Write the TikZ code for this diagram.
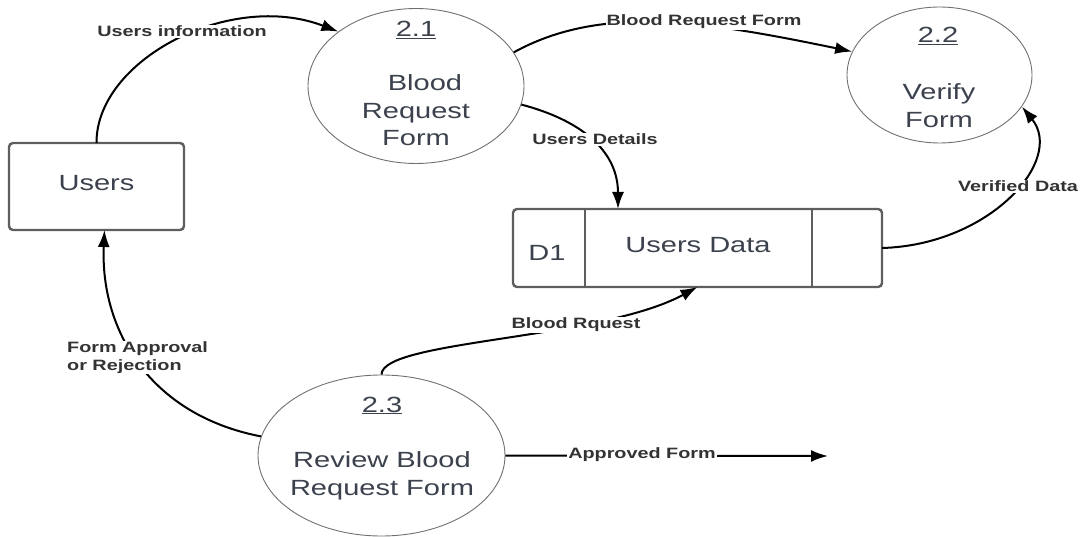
\documentclass[tikz,border=0pt]{standalone}
\usepackage{fontspec}
\setmainfont{Liberation Sans}[FakeStretch=1.32]
\usetikzlibrary{shapes.geometric,arrows.meta}
\definecolor{txt}{HTML}{3B414D}
\definecolor{lbl}{HTML}{333333}
\definecolor{edgegray}{HTML}{707070}
\definecolor{boxedge}{HTML}{5E5E5E}
\begin{document}
\begin{tikzpicture}[x=1pt,y=-1pt,
  proc/.style={ellipse,draw=edgegray,line width=0.9pt,inner sep=0pt},
  ent/.style={draw=boxedge,line width=2.4pt,rounded corners=4pt,inner sep=0pt,outer sep=0pt},
  bigtext/.style={font=\fontsize{22}{27.5}\selectfont,text=txt,align=center,inner sep=0pt},
  flowlbl/.style={font=\fontsize{15}{18}\selectfont\bfseries,text=lbl,fill=white,inner sep=1pt},
  flow/.style={draw=black,line width=2pt,-{Latex[length=17pt,width=12pt]}}
]
\useasboundingbox (0,0) rectangle (1086,537);

% processes
\node[proc,minimum width=216pt,minimum height=155pt] (c21) at (416,86) {};
\node[proc,minimum width=185pt,minimum height=136pt] (c22) at (939.5,75) {};
\node[proc,minimum width=247pt,minimum height=161pt] (c23) at (381.5,455.5) {};

% external entity
\node[ent,minimum width=175pt,minimum height=87pt,bigtext,text depth=7pt] (users) at (96.5,186.5) {Users};

% data store
\node[ent,minimum width=369pt,minimum height=78pt] (d1) at (697.5,248) {};
\draw[boxedge,line width=2.4pt] ([xshift=72pt]d1.north west) -- ([xshift=72pt]d1.south west);
\draw[boxedge,line width=2.4pt] ([xshift=-70pt]d1.north east) -- ([xshift=-70pt]d1.south east);

% texts
\node[bigtext,anchor=base] (n21) at (416,37) {\underline{2.1}};
\node[bigtext] (t21) at (416,110.5) {\hspace*{18pt}Blood\\Request\\Form};
\node[bigtext,anchor=base] (n22) at (938,43) {\underline{2.2}};
\node[bigtext] (t22) at (939,105.5) {Verify\\Form};
\node[bigtext,anchor=base] (n23) at (382,412) {\underline{2.3}};
\node[bigtext] (t23) at (382,476) {Review Blood\\Request Form};
\node[bigtext,anchor=base] (d1id) at (547,260) {D1};
\node[bigtext,anchor=base] (d1name) at (698,253) {Users Data};

% flows
\coordinate (aend) at (828,456);
\draw[flow] (users.north) .. controls (96,60) and (230,-10) .. (c21.145);
\draw[flow] (c21.19) .. controls (600,5) and (700,20) .. (c22.165);
\draw[flow] (c21.-10) .. controls (580,120) and (618,150) .. ([xshift=105pt]d1.north west);
\draw[flow] (d1.east) .. controls (990,245) and (1065,160) .. (c22.-21);
\draw[flow] (c23.north) .. controls (382,340) and (600,340) .. (d1.south);
\draw[flow] (c23.171.7) .. controls (150,415) and (100,330) .. ([xshift=8pt]users.south);
\draw[flow] (c23.east) -- (aend);

% flow labels
\node[flowlbl] (l1) at (182,31.5) {Users information};
\node[flowlbl] (l2) at (704,22) {Blood Request Form};
\node[flowlbl] (l3) at (595,139.5) {Users Details};
\node[flowlbl] (l4) at (1018,186.5) {Verified Data};
\node[flowlbl] (l5) at (576,325) {Blood Rquest};
\node[flowlbl] (l6) at (642,455) {Approved Form};
\node[flowlbl,align=left,anchor=west] (l7) at (66,357.5) {Form Approval\\or Rejection};
\end{tikzpicture}
\end{document}
